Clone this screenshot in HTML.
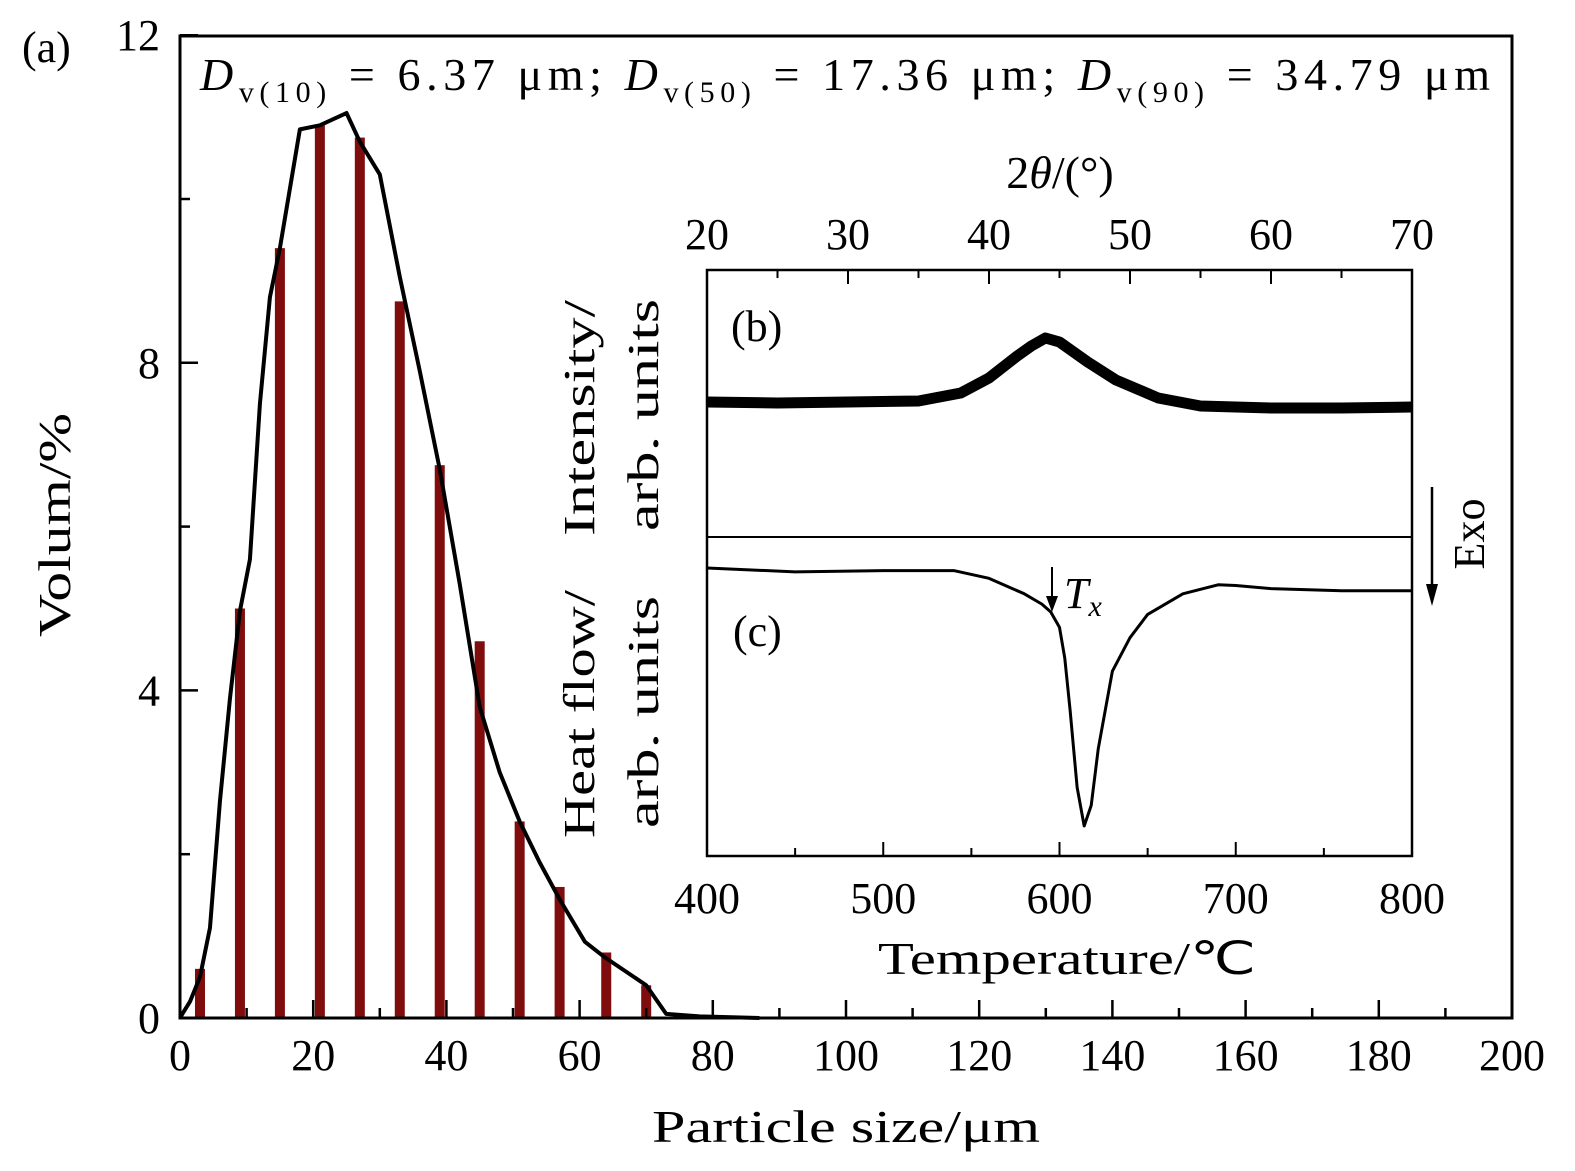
<!DOCTYPE html>
<html><head><meta charset="utf-8"><style>
body{margin:0;background:#fff}
svg{display:block;font-family:"Liberation Serif",serif}
</style></head><body>
<svg id="c" width="1575" height="1171" viewBox="0 0 1575 1171"></svg>
<script>
const psdX=[3,9,15,21,27,33,39,45,51,57,64,70,77,83];
const psdBars=[0.6,5.0,9.4,10.9,10.75,8.75,6.75,4.6,2.4,1.6,0.8,0.4,0.04,0.03];
const curveX=[0,0.5,1.5,3,4.5,6,7.5,9,10.5,12,13.5,15,18,21,25,27,30,33,36,39,42,45,48,51,54,57,60.8,63.8,70,73,78,87];
const curveY=[0,0.07,0.2,0.5,1.1,2.65,3.9,4.97,5.6,7.5,8.8,9.4,10.85,10.9,11.05,10.7,10.3,9.05,7.9,6.7,5.3,3.8,3.0,2.4,1.9,1.45,0.93,0.74,0.4,0.05,0.02,0];
const xTicks=[0,20,40,60,80,100,120,140,160,180,200];
const yTicks=[0,4,8,12];
const xrdX=[20,25,30,35,38,40,42,43,44,45,46,47,49,52,55,60,65,70];
const xrdY=[0.06,0.05,0.06,0.07,0.15,0.3,0.52,0.62,0.70,0.66,0.56,0.46,0.28,0.10,0.02,0.0,0.0,0.01];
const dscT=[400,450,500,540,560,580,590,595,600,603,606,610,614,618,622,630,640,650,670,690,700,720,760,800];
const dscY=[0,-0.015,-0.01,-0.01,-0.04,-0.1,-0.14,-0.17,-0.23,-0.35,-0.55,-0.85,-1.0,-0.92,-0.7,-0.4,-0.27,-0.18,-0.1,-0.065,-0.068,-0.08,-0.088,-0.088];
const tTicks=[400,500,600,700,800];
const tthTicks=[20,30,40,50,60,70];

const NS="http://www.w3.org/2000/svg",svg=document.getElementById('c');
function mk(t,a,p){const e=document.createElementNS(NS,t);for(const k in a)e.setAttribute(k,a[k]);(p||svg).appendChild(e);return e;}
const X=v=>180+v*6.66, Y=v=>1018-v*81.9;
const tX=v=>707+(v-400)*1.7625, aX=v=>707+(v-20)*14.1;
const xY=v=>408-v*100, dY=v=>568-v*258;

psdX.forEach((v,i)=>{const r=mk('rect',{x:X(v)-5,y:Y(psdBars[i]),width:10,height:Y(0)-Y(psdBars[i]),fill:'#7f0d0d'});

});
let p=mk('polyline',{points:curveX.map((v,i)=>X(v)+','+Y(curveY[i])).join(' '),fill:'none',stroke:'#000','stroke-width':4,'stroke-linejoin':'round'});


let b=mk('rect',{x:180,y:36,width:1332,height:982,fill:'none',stroke:'#000','stroke-width':3});


for(let v=0;v<=200;v+=10){mk('line',{x1:X(v),x2:X(v),y1:1018,y2:1018-(v%20?10:18),stroke:'#000','stroke-width':2.5});}
xTicks.forEach(v=>{const t=mk('text',{x:X(v),y:1070,'font-size':44,'text-anchor':'middle'});t.textContent=v;

});
for(let v=0;v<=12;v+=2){mk('line',{x1:180,x2:180+(v%4?10:18),y1:Y(v),y2:Y(v),stroke:'#000','stroke-width':2.5});}
yTicks.forEach(v=>{const t=mk('text',{x:160,y:Y(v)+15,'font-size':44,'text-anchor':'end'});t.textContent=v;

});

mk('rect',{x:707,y:270,width:705,height:586,fill:'#fff',stroke:'none'});
let xr=mk('polyline',{points:xrdX.map((v,i)=>aX(v)+','+xY(xrdY[i])).join(' '),fill:'none',stroke:'#000','stroke-width':11,'stroke-linejoin':'round'});


let ds=mk('polyline',{points:dscT.map((v,i)=>tX(v)+','+dY(dscY[i])).join(' '),fill:'none',stroke:'#000','stroke-width':3,'stroke-linejoin':'round'});


let ib=mk('rect',{x:707,y:270,width:705,height:586,fill:'none',stroke:'#000','stroke-width':2.5});


mk('line',{x1:707,x2:1412,y1:537,y2:537,stroke:'#000','stroke-width':2});
for(let v=400;v<=800;v+=50)mk('line',{x1:tX(v),x2:tX(v),y1:856,y2:856-(v%100?8:14),stroke:'#000','stroke-width':2});
for(let v=20;v<=70;v+=5)mk('line',{x1:aX(v),x2:aX(v),y1:270,y2:270+(v%10?8:14),stroke:'#000','stroke-width':2});
tTicks.forEach(v=>{const t=mk('text',{x:tX(v),y:913,'font-size':44,'text-anchor':'middle'});t.textContent=v;

});
tthTicks.forEach(v=>{const t=mk('text',{x:aX(v),y:249,'font-size':44,'text-anchor':'middle'});t.textContent=v;

});
</script>
<script>
(function(){
const svg=document.getElementById('c');
svg.insertAdjacentHTML('beforeend',`
<text x="22" y="62" font-size="44">(a)</text>
<text x="200" y="90" font-size="46" textLength="1290" lengthAdjust="spacing"><tspan font-style="italic">D</tspan><tspan font-size="30" dy="12">v(10)</tspan><tspan dy="-12"> = 6.37 μm; </tspan><tspan font-style="italic">D</tspan><tspan font-size="30" dy="12">v(50)</tspan><tspan dy="-12"> = 17.36 μm; </tspan><tspan font-style="italic">D</tspan><tspan font-size="30" dy="12">v(90)</tspan><tspan dy="-12"> = 34.79 μm</tspan></text>
<text x="652" y="1142" font-size="46" textLength="388" lengthAdjust="spacingAndGlyphs">Particle size/μm</text>
<text transform="translate(70,525) rotate(-90)" font-size="46" text-anchor="middle" textLength="224" lengthAdjust="spacingAndGlyphs">Volum/%</text>
<text x="1060" y="188" font-size="46" text-anchor="middle">2<tspan font-style="italic">θ</tspan>/(°)</text>
<text x="878" y="974" font-size="46" textLength="378" lengthAdjust="spacingAndGlyphs">Temperature/℃</text>
<text transform="translate(594,418) rotate(-90)" font-size="44" text-anchor="middle" textLength="236" lengthAdjust="spacingAndGlyphs">Intensity/</text>
<text transform="translate(658,415) rotate(-90)" font-size="44" text-anchor="middle" textLength="232" lengthAdjust="spacingAndGlyphs">arb. units</text>
<text transform="translate(594,714) rotate(-90)" font-size="44" text-anchor="middle" textLength="248" lengthAdjust="spacingAndGlyphs">Heat flow/</text>
<text transform="translate(658,712) rotate(-90)" font-size="44" text-anchor="middle" textLength="232" lengthAdjust="spacingAndGlyphs">arb. units</text>
<text x="731" y="341" font-size="44">(b)</text>
<text x="733" y="646" font-size="44">(c)</text>
<g><line x1="1052" y1="567" x2="1052" y2="600" stroke="#000" stroke-width="2"/><polygon points="1046,596 1058,596 1052,612" fill="#000"/>
<text x="1064" y="608" font-size="44" font-style="italic">T<tspan font-size="30" dy="8">x</tspan></text></g>
<g><line x1="1432" y1="487" x2="1432" y2="590" stroke="#000" stroke-width="2.5"/><polygon points="1426,584 1438,584 1432,606" fill="#000"/>
<text transform="translate(1484,534) rotate(-90)" font-size="44" text-anchor="middle">Exo</text></g>`);
})();
</script>
</body></html>
